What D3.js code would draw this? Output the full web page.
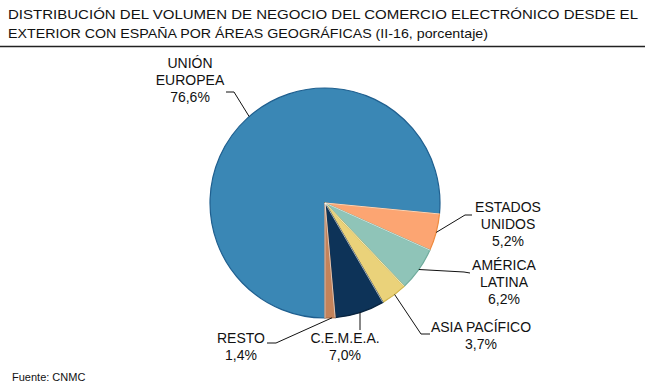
<!DOCTYPE html>
<html><head><meta charset="utf-8">
<script src="https://cdn.jsdelivr.net/npm/d3@7"></script>
<style>body{margin:0;background:#fff}svg{display:block}</style>
</head><body>
<script>
const categories = ["UNIÓN EUROPEA","ESTADOS UNIDOS","AMÉRICA LATINA","ASIA PACÍFICO","C.E.M.E.A.","RESTO"];
const values = [76.6, 5.2, 6.2, 3.7, 7.0, 1.4];
const labelLines = [["UNIÓN","EUROPEA","76,6%"],["ESTADOS","UNIDOS","5,2%"],["AMÉRICA","LATINA","6,2%"],["ASIA PACÍFICO","3,7%"],["C.E.M.E.A.","7,0%"],["RESTO","1,4%"]];
const fills = ["#3a87b5","#fca572","#8fc4b8","#ead27a","#0d3358","#c4835a"];
const strokes = ["#1f5f8f","#ef8a3e","#6fab9c","#d1b64c","#08243f","#a8663c"];
const titleLines = ["DISTRIBUCIÓN DEL VOLUMEN DE NEGOCIO DEL COMERCIO ELECTRÓNICO DESDE EL","EXTERIOR CON ESPAÑA POR ÁREAS GEOGRÁFICAS (II-16, porcentaje)"];
const source = "Fuente: CNMC";

const W=650,H=386;
const svg=d3.select("body").append("svg").attr("width",W).attr("height",H);
const font="'Liberation Sans', Arial, sans-serif";

// Title
const tl = [{y:19,len:630},{y:38,len:480}];
titleLines.forEach((t,i)=>{
  svg.append("text").attr("x",8).attr("y",tl[i].y).attr("font-family",font)
    .attr("font-size",13).attr("fill","#111")
    .attr("textLength",tl[i].len).attr("lengthAdjust","spacingAndGlyphs").text(t);
});
svg.append("line").attr("x1",0).attr("x2",645).attr("y1",46.5).attr("y2",46.5)
  .attr("stroke","#222").attr("stroke-width",1.5);

// Pie
const cx=325, cy=203, R=115;
const pie=d3.pie().sort(null).value(d=>d).startAngle(Math.PI).endAngle(3*Math.PI);
const arcs=pie(values);
const arc=d3.arc().innerRadius(0).outerRadius(R);
const g=svg.append("g").attr("transform",`translate(${cx},${cy})`);
g.selectAll("path").data(arcs).join("path").attr("d",arc)
  .attr("fill",(d,i)=>fills[i]).attr("stroke",(d,i)=>strokes[i]).attr("stroke-width",1.2)
  .attr("stroke-linejoin","round");
g.selectAll("line.sep").data(arcs).join("line").attr("class","sep")
  .attr("x1",0).attr("y1",0)
  .attr("x2",d=>R*Math.sin(d.startAngle)).attr("y2",d=>-R*Math.cos(d.startAngle))
  .attr("stroke","#fff").attr("stroke-width",0.8).attr("opacity",0.8);

// Labels
const lab = [
  {x:190,y:68,pts:[[226,92],[234,92]]},
  {x:508,y:212,pts:[[472,215],[465,215]]},
  {x:504,y:270,pts:[[470,273],[464,272]]},
  {x:481,y:332,pts:[[430,334],[421,334]]},
  {x:345,y:343,pts:[[360,330]]},
  {x:241,y:343,pts:[[267,343],[276,343]]}
];
const frac = [null,0.5,0.5,0.47,0.48,0.3];
const edgeAng = arcs.map((d,i)=> frac[i]==null ? null : d.startAngle+(d.endAngle-d.startAngle)*frac[i]);
edgeAng[0] = 2*Math.PI - 0.72;
lab.forEach((l,i)=>{
  const a=edgeAng[i];
  let ex=cx+R*Math.sin(a), ey=cy-R*Math.cos(a);
  if(i===4) ex=l.pts[0][0];
  const p=[...l.pts,[ex,ey]];
  svg.append("path").attr("d",d3.line()(p)).attr("fill","none").attr("stroke","#111").attr("stroke-width",1);
  const t=svg.append("text").attr("font-family",font).attr("font-size",14).attr("fill","#111")
    .attr("text-anchor","middle");
  labelLines[i].forEach((s,j)=>{
    t.append("tspan").attr("x",l.x).attr("y",l.y+j*17).text(s);
  });
});

svg.append("text").attr("x",12).attr("y",381).attr("font-family",font).attr("font-size",11)
  .attr("fill","#111").text(source);
</script>
</body></html>
